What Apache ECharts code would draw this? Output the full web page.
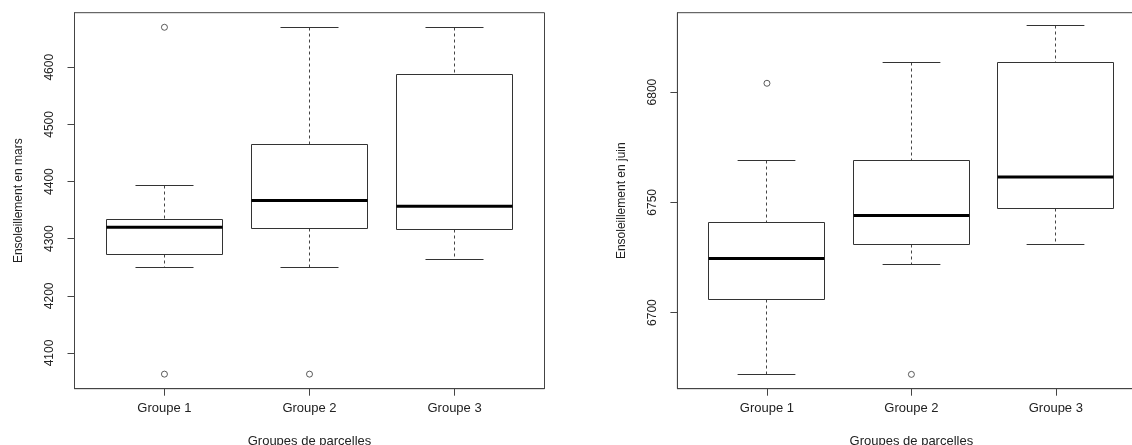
<!DOCTYPE html>
<html>
<head>
<meta charset="utf-8">
<script src="https://cdn.jsdelivr.net/npm/echarts@6/dist/echarts.min.js"></script>
<style>
  html, body { margin: 0; padding: 0; background: #fff; }
  #chart { width: 1132px; height: 445px; }
</style>
</head>
<body>
<div id="chart"></div>
<script>
// ---- Data ----
const categories = ['Groupe 1', 'Groupe 2', 'Groupe 3'];

// Ensoleillement en mars
const marsLow  = [4249, 4249, 4263];
const marsQ1   = [4272, 4318, 4316];
const marsMed  = [4320, 4367, 4357];
const marsQ3   = [4334, 4465, 4588];
const marsHigh = [4393, 4670, 4670];
const marsOutlierGroup = [1, 1, 2];
const marsOutlierValue = [4670, 4063, 4063];
const marsTicks = [4100, 4200, 4300, 4400, 4500, 4600];

// Ensoleillement en juin
const juinLow  = [6672, 6722, 6731];
const juinQ1   = [6706, 6731, 6747];
const juinMed  = [6724.5, 6744, 6761.5];
const juinQ3   = [6741, 6769, 6813.5];
const juinHigh = [6769, 6813.5, 6830];
const juinOutlierGroup = [1, 2];
const juinOutlierValue = [6804, 6672];
const juinTicks = [6700, 6750, 6800];

// ---- Build data structures ----
function boxData(lo, q1, md, q3, hi) {
  return categories.map((c, i) => [i + 1, lo[i], q1[i], md[i], q3[i], hi[i]]);
}
function outData(g, v) {
  return g.map((gi, i) => [gi, v[i]]);
}

const TEXT = '#222';
const LINE = '#333';
const FONT = 'Liberation Sans, Arial, sans-serif';

function crisp(v) { return Math.round(v - 0.5) + 0.5; }

function renderBox(params, api) {
  const x = api.value(0);
  const cx = crisp(api.coord([x, 0])[0]);
  const yLo = crisp(api.coord([x, api.value(1)])[1]);
  const yQ1 = crisp(api.coord([x, api.value(2)])[1]);
  const yMd = api.coord([x, api.value(3)])[1];
  const yQ3 = crisp(api.coord([x, api.value(4)])[1]);
  const yHi = crisp(api.coord([x, api.value(5)])[1]);
  const bh = api.size([0.4, 0])[0];
  const ch = api.size([0.2, 0])[0];
  const thin = { stroke: LINE, lineWidth: 1 };
  const dash = { stroke: '#444', lineWidth: 1, lineDash: [3, 3] };
  return {
    type: 'group',
    children: [
      { type: 'line', shape: { x1: cx, y1: yHi, x2: cx, y2: yQ3 }, style: dash },
      { type: 'line', shape: { x1: cx, y1: yQ1, x2: cx, y2: yLo }, style: dash },
      { type: 'line', shape: { x1: cx - ch, y1: yHi, x2: cx + ch, y2: yHi }, style: thin },
      { type: 'line', shape: { x1: cx - ch, y1: yLo, x2: cx + ch, y2: yLo }, style: thin },
      { type: 'rect', shape: { x: crisp(cx - bh), y: yQ3, width: Math.round(2 * bh), height: yQ1 - yQ3 },
        style: { fill: '#fff', stroke: LINE, lineWidth: 1 } },
      { type: 'line', shape: { x1: cx - bh, y1: yMd, x2: cx + bh, y2: yMd },
        style: { stroke: '#000', lineWidth: 3 } }
    ]
  };
}

function xAxisCfg(gridIndex) {
  return {
    type: 'value', gridIndex: gridIndex, min: 0.38, max: 3.62,
    name: 'Groupes de parcelles', nameLocation: 'middle', nameGap: 46,
    nameTextStyle: { color: TEXT, fontSize: 13, fontFamily: FONT },
    splitLine: { show: false },
    axisLine: { show: true, onZero: false, lineStyle: { color: '#444', width: 1 } },
    axisTick: { show: true, length: 7, inside: false, customValues: [1, 2, 3], lineStyle: { color: '#444' } },
    axisLabel: { show: true, customValues: [1, 2, 3], margin: 13, color: TEXT, fontSize: 13, fontFamily: FONT,
      formatter: v => categories[Math.round(v) - 1] || '' }
  };
}
function yAxisCfg(gridIndex, min, max, ticks, name) {
  return {
    type: 'value', gridIndex: gridIndex, min: min, max: max,
    name: name, nameLocation: 'middle', nameRotate: 90, nameGap: 50,
    nameTextStyle: { color: TEXT, fontSize: 12, fontFamily: FONT },
    splitLine: { show: false },
    axisLine: { show: true, onZero: false, lineStyle: { color: '#444', width: 1 } },
    axisTick: { show: true, length: 7, inside: false, customValues: ticks, lineStyle: { color: '#444' } },
    axisLabel: { show: true, customValues: ticks, rotate: 90, margin: 19, color: TEXT, fontSize: 12, fontFamily: FONT,
      formatter: v => String(Math.round(v)) }
  };
}

const chart = echarts.init(document.getElementById('chart'), null, { renderer: 'canvas' });
chart.setOption({
  animation: false,
  backgroundColor: '#fff',
  textStyle: { fontFamily: FONT },
  grid: [
    { left: 74.5, top: 12.7, width: 470, height: 376, show: true, borderColor: '#444', borderWidth: 1, outerBoundsMode: 'none', containLabel: false },
    { left: 677.4, top: 12.7, width: 468, height: 376, show: true, borderColor: '#444', borderWidth: 1, outerBoundsMode: 'none', containLabel: false }
  ],
  xAxis: [xAxisCfg(0), xAxisCfg(1)],
  yAxis: [
    yAxisCfg(0, 4037.5, 4695.5, marsTicks, 'Ensoleillement en mars'),
    yAxisCfg(1, 6665.5, 6836, juinTicks, 'Ensoleillement en juin')
  ],
  series: [
    { type: 'custom', xAxisIndex: 0, yAxisIndex: 0, renderItem: renderBox,
      encode: { x: 0, y: [1, 2, 3, 4, 5] }, data: boxData(marsLow, marsQ1, marsMed, marsQ3, marsHigh), silent: true },
    { type: 'scatter', xAxisIndex: 0, yAxisIndex: 0, symbol: 'circle', symbolSize: 6,
      itemStyle: { color: '#fff', borderColor: LINE, borderWidth: 1 }, data: outData(marsOutlierGroup, marsOutlierValue), silent: true },
    { type: 'custom', xAxisIndex: 1, yAxisIndex: 1, renderItem: renderBox,
      encode: { x: 0, y: [1, 2, 3, 4, 5] }, data: boxData(juinLow, juinQ1, juinMed, juinQ3, juinHigh), silent: true },
    { type: 'scatter', xAxisIndex: 1, yAxisIndex: 1, symbol: 'circle', symbolSize: 6,
      itemStyle: { color: '#fff', borderColor: LINE, borderWidth: 1 }, data: outData(juinOutlierGroup, juinOutlierValue), silent: true }
  ]
});
</script>
</body>
</html>
